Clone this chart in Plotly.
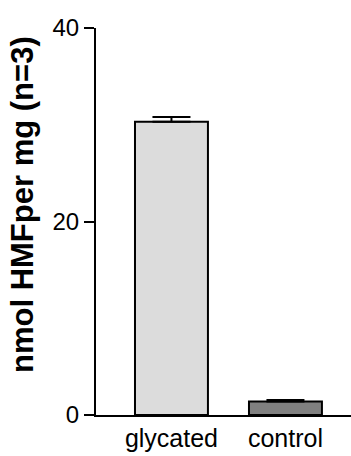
import plotly.graph_objects as go

# HMF content per mg of protein, mean ± SD (n=3)
categories = ["glycated", "control"]
hmf_nmol_per_mg = [30.3, 1.4]
sd_values = [0.5, 0.15]
bar_colors = ["#dcdcdc", "#808080"]
y_ticks = [0, 20, 40]

fig = go.Figure()
fig.add_trace(go.Bar(
    x=categories,
    y=hmf_nmol_per_mg,
    width=0.64,
    marker=dict(color=bar_colors, line=dict(color="black", width=2)),
    error_y=dict(type="data", array=sd_values, symmetric=False,
                 arrayminus=[0, 0], color="black", thickness=2, width=19),
    showlegend=False,
))

W, H = 351, 456
ml, mr, mt, mb = 96, 0, 28, 41
pw, ph = W - ml - mr, H - mt - mb

fig.update_layout(
    width=W, height=H,
    margin=dict(l=ml, r=mr, t=mt, b=mb, pad=0),
    plot_bgcolor="white", paper_bgcolor="white",
    font=dict(family="Liberation Sans, Arial, sans-serif", color="black"),
)
fig.update_xaxes(
    type="category",
    range=[-0.662, 1.575],
    showline=True, linecolor="black", linewidth=2,
    ticks="", showgrid=False, zeroline=False,
    tickfont=dict(size=25, color="black"),
)
fig.update_yaxes(
    range=[0, 40],
    tickvals=y_ticks,
    showline=True, linecolor="black", linewidth=2,
    ticks="outside", ticklen=10, tickwidth=2, tickcolor="black",
    showgrid=False, zeroline=False,
    tickfont=dict(size=24, color="black"),
)
fig.add_annotation(
    text="<b>nmol HMFper mg (n=3)</b>",
    xref="paper", yref="paper",
    x=(22 - ml) / pw, y=(H - mb - 205) / ph,
    xanchor="center", yanchor="middle",
    textangle=-90, showarrow=False,
    font=dict(size=31, color="black", family="Liberation Sans, Arial, sans-serif"),
)

fig.write_html("out.html")
